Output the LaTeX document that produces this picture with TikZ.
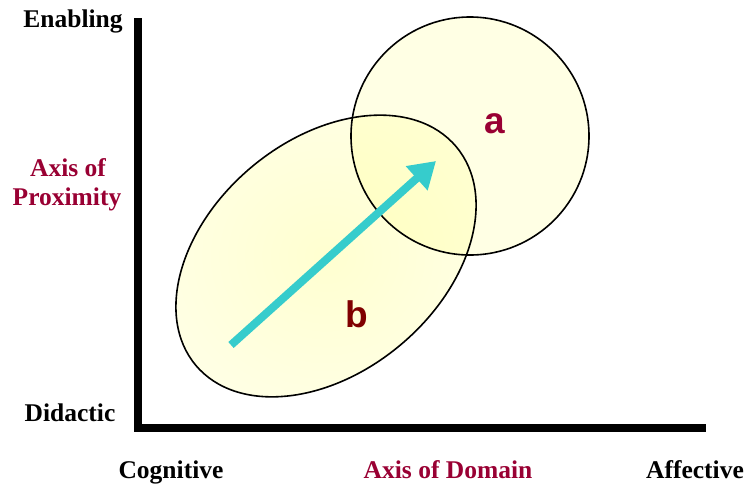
\documentclass[tikz,border=0pt]{standalone}
\usepackage{fontspec}
\setmainfont{Liberation Serif}
\newfontfamily\arialf{Liberation Sans}
\usetikzlibrary{arrows.meta}
\definecolor{axred}{RGB}{153,0,51}
\definecolor{bred}{RGB}{128,0,0}
\definecolor{arrcyan}{RGB}{54,204,204}
\definecolor{paley}{RGB}{255,255,228}
\definecolor{midy}{RGB}{255,255,208}
\definecolor{deepy}{RGB}{255,255,190}
\tikzset{
  lab/.style={font=\fontsize{25.5}{30}\selectfont\bfseries, anchor=base},
  letter/.style={font=\arialf\fontsize{37}{40}\selectfont\bfseries, anchor=base},
  outline/.style={draw=black, line width=1.6pt},
}
\begin{document}
\begin{tikzpicture}[x=1pt,y=-1pt]
\useasboundingbox (0,0) rectangle (746,485);
% fills
\shade[inner color=paley, outer color=paley] (470,136) circle[radius=119];
\shade[inner color=midy, outer color=paley, rotate around={40:(326,256)}] (326,256) ellipse[x radius=170, y radius=116];
\begin{scope}
  \clip (470,136) circle[radius=119];
  \shade[inner color=deepy, outer color=midy, rotate around={40:(326,256)}] (326,256) ellipse[x radius=170, y radius=116];
\end{scope}
% outlines
\draw[outline] (470,136) circle[radius=119];
\draw[outline, rotate around={40:(326,256)}] (326,256) ellipse[x radius=170, y radius=116];
% axes
\coordinate (top) at (138,18);
\coordinate (origin) at (138,428);
\coordinate (right) at (706,428);
\draw[line width=8pt, line join=miter] (top) -- (origin) -- (right);
% arrow
\coordinate (tail) at (231,345);
\coordinate (tip) at (436,161);
\draw[arrcyan, line width=8pt, -{Triangle[length=26pt,width=31pt]}] (tail) -- (tip);
% labels
\node[letter, text=axred] (la) at (495,133) {a};
\node[letter, text=bred] (lb) at (357,327) {b};
\node[lab] (enab) at (73,27) {Enabling};
\node[lab, text=axred] (prox1) at (68,176) {Axis of};
\node[lab, text=axred] (prox2) at (67,205) {Proximity};
\node[lab] (did) at (70,421) {Didactic};
\node[lab] (cog) at (171,478) {Cognitive};
\node[lab, text=axred] (dom) at (448,478) {Axis of Domain};
\node[lab] (aff) at (695,478) {Affective};
\end{tikzpicture}
\end{document}
